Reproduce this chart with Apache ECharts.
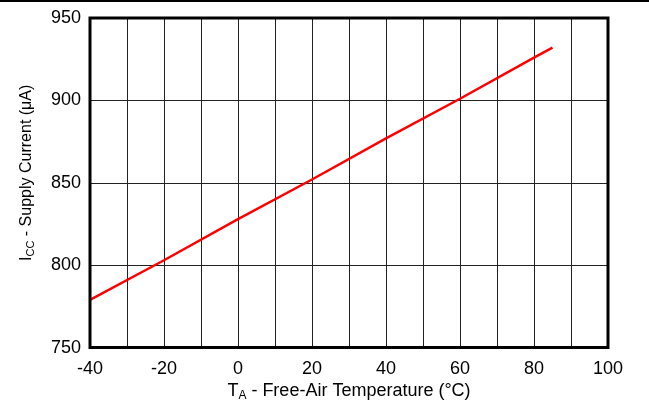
<!DOCTYPE html>
<html><head><meta charset="utf-8">
<script src="https://cdn.jsdelivr.net/npm/echarts@6/dist/echarts.min.js"></script>
<style>html,body{margin:0;padding:0;background:#fff}#c{width:649px;height:407px}</style>
</head><body><div id="c"></div>
<script>
const temps = [-40, -20, 0, 20, 40, 60, 80, 85];
const icc = [779, 803, 828, 852, 877, 901, 926, 932];
const xMin = -40, xMax = 100, xStep = 10;
const yMin = 750, yMax = 950, yStep = 50;

const chart = echarts.init(document.getElementById('c'));
const font = 'Liberation Sans, Arial, sans-serif';
chart.setOption({
  animation: false,
  graphic: [{type:'line', shape:{x1:0,y1:1,x2:649,y2:1}, style:{stroke:'#000', lineWidth:2}}],
  grid: {left: 90, top: 18, width: 518, height: 330, show: true, borderColor: '#000', borderWidth: 3, backgroundColor: 'transparent', z: 3},
  xAxis: {
    type: 'value', min: xMin, max: xMax, interval: xStep,
    axisLine: {show: false}, axisTick: {show: false},
    splitLine: {show: true, lineStyle: {color: '#222', width: 1}},
    axisLabel: {color: '#000', fontFamily: font, fontSize: 18, margin: 12,
      formatter: v => (v % 20 === 0 ? String(v) : '')},
    name: '{n|T}{s|A}{n| - Free-Air Temperature (°C)}',
    nameLocation: 'middle', nameGap: 30,
    nameTextStyle: {rich: {n: {fontFamily: font, fontSize: 18, color: '#000'}, s: {fontFamily: font, fontSize: 12, color: '#000', padding: [9,0,0,0]}}}
  },
  yAxis: {
    type: 'value', min: yMin, max: yMax, interval: yStep,
    axisLine: {show: false}, axisTick: {show: false},
    splitLine: {show: true, lineStyle: {color: '#222', width: 1}},
    axisLabel: {color: '#000', fontFamily: font, fontSize: 18, margin: 9},
    name: '{n|I}{s|CC}{n| - Supply Current (μA)}',
    nameLocation: 'middle', nameGap: 54,
    nameTextStyle: {padding: [0, 0, 0, 20], rich: {n: {fontFamily: font, fontSize: 16, color: '#000'}, s: {fontFamily: font, fontSize: 11, color: '#000', padding: [8,0,0,0]}}}
  },
  series: [{
    type: 'line', data: temps.map((t, i) => [t, icc[i]]),
    showSymbol: false, lineStyle: {color: '#ff0000', width: 2.5}, z: 2
  }]
});
</script></body></html>
